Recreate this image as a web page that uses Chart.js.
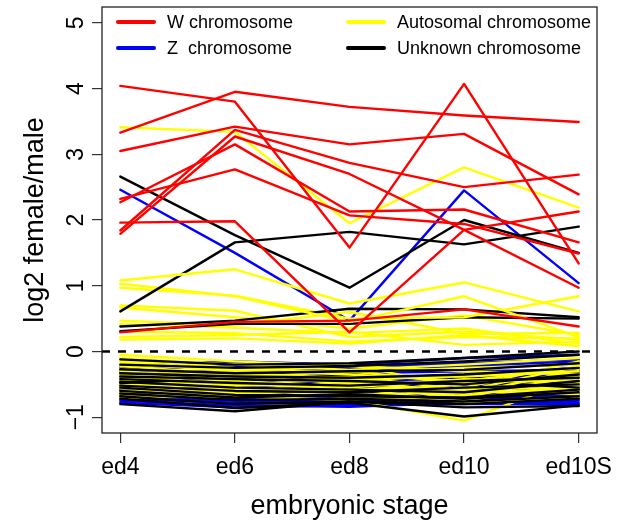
<!DOCTYPE html>
<html>
<head>
<meta charset="utf-8">
<script src="https://cdn.jsdelivr.net/npm/chart.js@4.4.0/dist/chart.umd.min.js"></script>
<style>
  html, body { margin: 0; padding: 0; background: #fff; }
  #wrap { width: 621px; height: 521px; }
</style>
</head>
<body>
<div id="wrap"><canvas id="c" width="621" height="521"></canvas></div>
<script>
// ── Data (log2 female/male per embryonic stage) ─────────────

const stages = ['ed4', 'ed6', 'ed8', 'ed10', 'ed10S'];
const yTicks = [-1, 0, 1, 2, 3, 4, 5];

const wLines = [
  [4.04, 3.80, 1.58, 4.07, 1.34],
  [3.33, 3.95, 3.72, 3.59, 3.49],
  [3.05, 3.42, 3.15, 3.31, 2.39],
  [1.84, 3.37, 2.87, 2.50, 2.69],
  [1.79, 3.27, 2.70, 1.85, 0.97],
  [2.27, 3.15, 2.13, 2.16, 1.66],
  [2.32, 2.77, 2.07, 1.94, 1.49],
  [1.96, 1.98, 0.29, 1.85, 2.13],
  [0.29, 0.45, 0.47, 0.64, 0.38],
];

const zLines = [
  [2.46, 1.50, 0.47, 2.45, 1.04],
  [-0.22, -0.15, -0.20, -0.10, -0.05],
  [-0.28, -0.22, -0.25, -0.18, -0.12],
  [-0.32, -0.30, -0.28, -0.25, -0.20],
  [-0.35, -0.40, -0.33, -0.30, -0.28],
  [-0.40, -0.45, -0.38, -0.42, -0.33],
  [-0.44, -0.50, -0.46, -0.40, -0.38],
  [-0.48, -0.55, -0.50, -0.52, -0.45],
  [-0.50, -0.58, -0.55, -0.48, -0.52],
  [-0.53, -0.62, -0.60, -0.58, -0.55],
  [-0.56, -0.65, -0.62, -0.66, -0.60],
  [-0.60, -0.68, -0.66, -0.62, -0.64],
  [-0.63, -0.70, -0.72, -0.70, -0.66],
  [-0.66, -0.72, -0.75, -0.72, -0.70],
  [-0.70, -0.75, -0.78, -0.74, -0.72],
  [-0.72, -0.78, -0.80, -0.76, -0.75],
  [-0.75, -0.82, -0.84, -0.78, -0.78],
  [-0.78, -0.85, -0.82, -0.80, -0.80],
  [-0.38, -0.30, -0.42, -0.35, -0.25],
  [-0.45, -0.36, -0.50, -0.55, -0.40],
  [-0.58, -0.50, -0.45, -0.60, -0.48],
  [-0.25, -0.35, -0.30, -0.22, -0.15],
  [-0.68, -0.60, -0.70, -0.65, -0.58],
];

const autoLines = [
  [3.41, 3.34, 1.95, 2.80, 2.19],
  [1.08, 1.25, 0.73, 1.05, 0.61],
  [1.03, 0.84, 0.45, 0.84, 0.22],
  [0.97, 0.85, 0.50, 0.52, 0.84],
  [0.70, 0.62, 0.22, 0.30, 0.18],
  [0.67, 0.52, 0.35, 0.55, 0.25],
  [0.47, 0.40, 0.60, 0.27, 0.28],
  [0.42, 0.36, 0.28, 0.35, 0.12],
  [0.30, 0.28, 0.15, 0.22, 0.20],
  [0.22, 0.25, 0.30, 0.10, 0.15],
  [0.18, 0.20, 0.12, 0.25, 0.08],
  [-0.05, -0.15, -0.22, -0.30, -0.35],
  [-0.10, -0.20, -0.28, -0.20, -0.10],
  [-0.15, -0.28, -0.35, -0.45, -0.25],
  [-0.18, -0.30, -0.20, -0.55, -0.15],
  [-0.22, -0.35, -0.40, -0.38, -0.30],
  [-0.26, -0.38, -0.48, -0.60, -0.22],
  [-0.30, -0.40, -0.30, -0.48, -0.40],
  [-0.34, -0.45, -0.55, -0.42, -0.45],
  [-0.37, -0.50, -0.42, -0.65, -0.28],
  [-0.40, -0.45, -0.60, -0.55, -0.50],
  [-0.44, -0.52, -0.50, -0.70, -0.35],
  [-0.47, -0.48, -0.38, -0.58, -0.55],
  [-0.50, -0.55, -0.62, -0.50, -0.42],
  [-0.53, -0.60, -0.45, -0.75, -0.48],
  [-0.56, -0.58, -0.66, -0.62, -0.60],
  [-0.60, -0.62, -0.52, -0.68, -0.38],
  [-0.63, -0.55, -0.70, -0.72, -0.52],
  [-0.66, -0.65, -0.58, -0.60, -0.65],
  [-0.70, -0.68, -0.74, -1.05, -0.40],
  [-0.72, -0.64, -0.55, -0.78, -0.70],
  [-0.12, -0.25, -0.32, -0.25, -0.20],
  [-0.42, -0.30, -0.45, -0.35, -0.62],
];

const unknownLines = [
  [2.66, 1.77, 0.97, 2.00, 1.50],
  [0.61, 1.66, 1.82, 1.63, 1.90],
  [0.38, 0.47, 0.65, 0.64, 0.52],
  [0.31, 0.42, 0.42, 0.52, 0.50],
  [-0.12, -0.20, -0.18, -0.10, 0.00],
  [-0.20, -0.25, -0.22, -0.15, -0.05],
  [-0.27, -0.33, -0.30, -0.28, -0.18],
  [-0.33, -0.38, -0.40, -0.35, -0.25],
  [-0.38, -0.42, -0.45, -0.50, -0.35],
  [-0.42, -0.48, -0.52, -0.45, -0.40],
  [-0.46, -0.55, -0.58, -0.62, -0.45],
  [-0.52, -0.60, -0.62, -0.55, -0.50],
  [-0.55, -0.66, -0.68, -0.70, -0.58],
  [-0.60, -0.70, -0.65, -0.72, -0.62],
  [-0.64, -0.74, -0.72, -0.76, -0.68],
  [-0.68, -0.80, -0.76, -0.80, -0.72],
  [-0.72, -0.86, -0.78, -0.99, -0.82],
  [-0.80, -0.91, -0.76, -0.85, -0.83],
  [-0.30, -0.45, -0.35, -0.40, -0.30],
  [-0.48, -0.40, -0.55, -0.45, -0.55],
];

// legend is filled column by column, like R's ncol = 2
const legendLabels = ['W chromosome', 'Z  chromosome', 'Autosomal chromosome', 'Unknown chromosome'];
const legendColors = ['#ff0000', '#0000ff', '#ffff00', '#000000'];

// ── Build datasets ─────────────────────────────────────────

const FONT = "'Liberation Sans', Arial, Helvetica, sans-serif";

function lineSet(vals, color) {
  return {
    data:            vals.map((v, i) => ({ x: i, y: v })),
    borderColor:     color,
    borderWidth:     2.4,
    pointRadius:     0,
    tension:         0,
    fill:            false,
    borderJoinStyle: 'round',
    borderCapStyle:  'round',
  };
}

// first dataset is painted last (on top)
const datasets = [
  {
    data:        [{ x: -0.16, y: 0 }, { x: 4.16, y: 0 }],
    borderColor: '#000',
    borderWidth: 2.4,
    borderDash:  [8, 8],
    pointRadius: 0,
  },
  ...wLines.map(r => lineSet(r, legendColors[0])),
];

// unknown and autosomal lines share the lower band: mix their order, Z goes underneath
const nMax = Math.max(autoLines.length, unknownLines.length);
for (let i = 0; i < nMax; i++) {
  if (autoLines[i])    datasets.push(lineSet(autoLines[i], legendColors[2]));
  if (unknownLines[i]) datasets.push(lineSet(unknownLines[i], legendColors[3]));
}
zLines.forEach(r => datasets.push(lineSet(r, legendColors[1])));

// ── Box + legend (R style) ─────────────────────────────────

const framePlugin = {
  id: 'frame',
  afterDraw(chart) {
    const { ctx, chartArea: a } = chart;
    ctx.save();
    ctx.strokeStyle = '#222';
    ctx.lineWidth = 1.3;
    ctx.strokeRect(a.left, a.top, a.right - a.left, a.bottom - a.top);

    const colX = [a.left + 16, a.left + 246];
    const rowY = [a.top + 15, a.top + 41];
    ctx.font = '18px ' + FONT;
    ctx.textBaseline = 'middle';
    ctx.fillStyle = '#000';
    legendLabels.forEach((lab, i) => {
      const x = colX[Math.floor(i / 2)];
      const y = rowY[i % 2];
      ctx.strokeStyle = legendColors[i];
      ctx.lineWidth = 4;
      ctx.lineCap = 'round';
      ctx.beginPath();
      ctx.moveTo(x, y);
      ctx.lineTo(x + 36, y);
      ctx.stroke();
      ctx.fillText(lab, x + 49, y + 1);
    });
    ctx.restore();
  },
};

// ── Chart ──────────────────────────────────────────────────

new Chart(document.getElementById('c'), {
  type: 'line',
  data: { datasets },
  plugins: [framePlugin],
  options: {
    responsive: false,
    animation: false,
    devicePixelRatio: 1,
    layout: { padding: { top: 7, right: 24, left: 0, bottom: 0 } },
    plugins: { legend: { display: false }, tooltip: { enabled: false } },
    scales: {
      x: {
        type: 'linear',
        min: -0.16,
        max: 4.16,
        afterBuildTicks: s => { s.ticks = stages.map((_, i) => ({ value: i })); },
        afterFit: s => { s.height = 88; s.paddingLeft = 0; s.paddingRight = 0; },
        ticks: {
          callback: v => stages[v],
          font: { family: FONT, size: 23 },
          color: '#000',
          padding: 11,
          maxRotation: 0,
          autoSkip: false,
        },
        grid: { drawOnChartArea: false, drawTicks: true, tickLength: 10, color: '#333', lineWidth: 1.2 },
        border: { display: false },
        title: {
          display: true,
          text: 'embryonic stage',
          font: { family: FONT, size: 27 },
          color: '#000',
          padding: { top: 0, bottom: -2 },
        },
      },
      y: {
        type: 'linear',
        min: -1.24,
        max: 5.24,
        afterBuildTicks: s => { s.ticks = yTicks.map(v => ({ value: v })); },
        afterFit: s => { s.width = 102; s.paddingTop = 0; s.paddingBottom = 0; },
        ticks: {
          callback: v => (v < 0 ? '\u2212' + Math.abs(v) : String(v)),
          font: { family: FONT, size: 23 },
          color: '#000',
          padding: 2,
          minRotation: 90,
          maxRotation: 90,
          crossAlign: 'center',
        },
        grid: { drawOnChartArea: false, drawTicks: true, tickLength: 10, color: '#333', lineWidth: 1.2 },
        border: { display: false },
        title: {
          display: true,
          text: 'log2 female/male',
          font: { family: FONT, size: 27 },
          color: '#000',
          padding: { top: 19, bottom: 0 },
        },
      },
    },
  },
});
</script>
</body>
</html>
